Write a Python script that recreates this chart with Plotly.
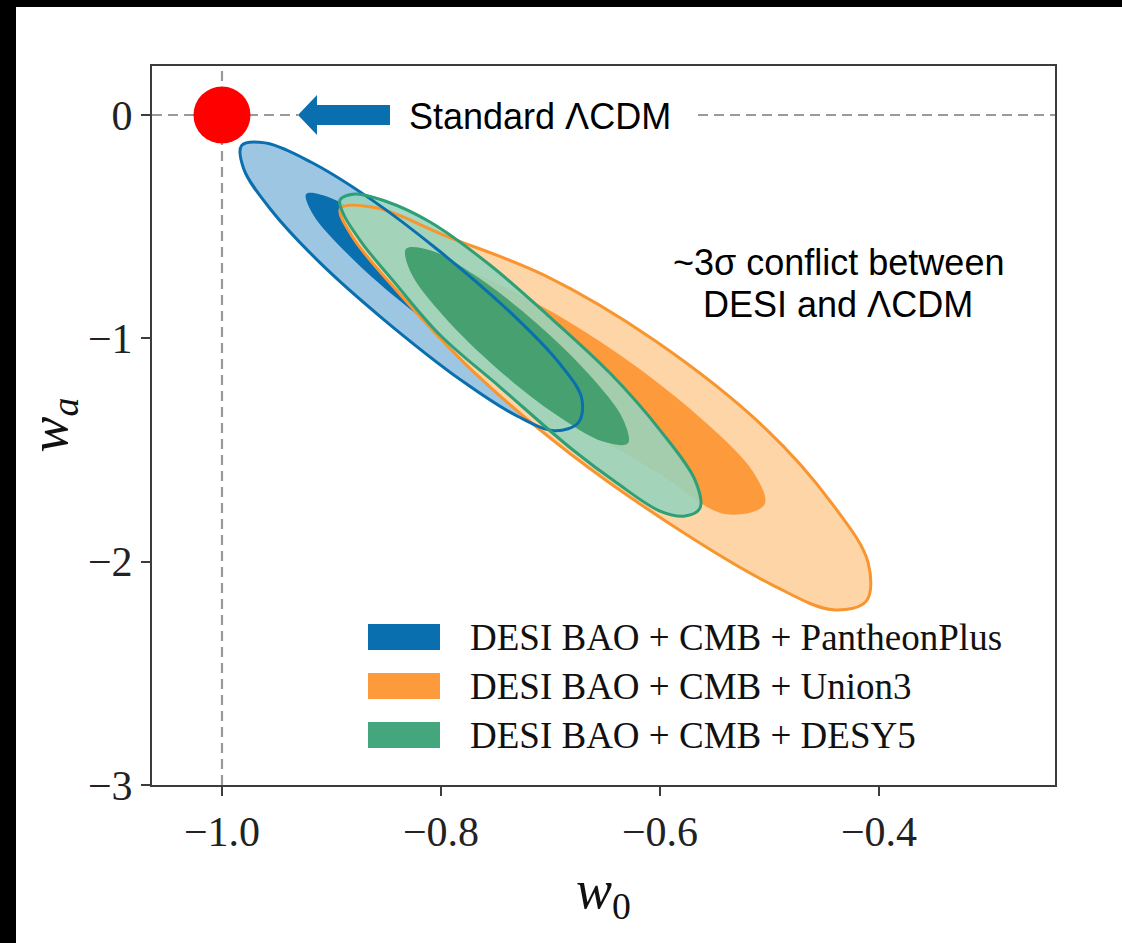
import plotly.graph_objects as go

# ---------------- data ----------------
# contour boundaries in (w0, wa); "outer" = 95% region, "inner" = 68% region
blue_outer_w0 = [-0.8539, -0.9108, -0.9551, -0.9801, -0.9820, -0.9605, -0.9189, -0.8635,
                 -0.8027, -0.7309, -0.6911, -0.6715, -0.6746, -0.6960, -0.7301, -0.7789]
blue_outer_wa = [-0.9091, -0.6601, -0.4254, -0.2414, -0.1361, -0.1249, -0.2105, -0.3789,
                 -0.6046, -0.9104, -1.1160, -1.2683, -1.3775, -1.4134, -1.3489, -1.1970]
blue_inner_w0 = [-0.8398, -0.8864, -0.9168, -0.9231, -0.9035, -0.8632, -0.8132, -0.7666,
                 -0.7362, -0.7299, -0.7495, -0.7898]
blue_inner_wa = [-0.8231, -0.6171, -0.4456, -0.3533, -0.3659, -0.4792, -0.6637, -0.8697,
                 -1.0412, -1.1335, -1.1209, -1.0076]

orange_outer_w0 = [-0.6823, -0.7705, -0.8393, -0.8813, -0.8917, -0.8584, -0.7954, -0.7053,
                   -0.6055, -0.5041, -0.4424, -0.4100, -0.4117, -0.4421, -0.4972, -0.5763]
orange_outer_wa = [-1.5155, -1.1491, -0.7927, -0.5419, -0.4187, -0.4165, -0.5419, -0.7183,
                   -1.0076, -1.4017, -1.7430, -2.0036, -2.1769, -2.2154, -2.1048, -1.8773]
orange_inner_w0 = [-0.6785, -0.7521, -0.8005, -0.8105, -0.7799, -0.7160, -0.6365, -0.5630,
                   -0.5146, -0.5046, -0.5406, -0.5991]
orange_inner_wa = [-1.3704, -1.0882, -0.8442, -0.7009, -0.6986, -0.8348, -1.0748, -1.3569,
                   -1.6010, -1.7443, -1.7868, -1.6122]

green_outer_w0 = [-0.7461, -0.8009, -0.8420, -0.8721, -0.8895, -0.8922, -0.8785, -0.8511,
                  -0.8100, -0.7553, -0.6986, -0.6457, -0.6000, -0.5680, -0.5635, -0.5772,
                  -0.6000, -0.6393, -0.6795]
green_outer_wa = [-1.2181, -0.9852, -0.7524, -0.5732, -0.4389, -0.3807, -0.3538, -0.3851,
                  -0.4792, -0.6717, -0.9136, -1.1554, -1.4107, -1.6346, -1.7600, -1.7958,
                  -1.7734, -1.6480, -1.5002]
green_inner_w0 = [-0.7487, -0.7969, -0.8273, -0.8319, -0.8092, -0.7657, -0.7125, -0.6643,
                  -0.6339, -0.6293, -0.6520, -0.6955]
green_inner_wa = [-1.1357, -0.9046, -0.7080, -0.5992, -0.6068, -0.7291, -0.9333, -1.1644,
                  -1.3610, -1.4698, -1.4622, -1.3399]

series_names = ["DESI BAO + CMB + PantheonPlus", "DESI BAO + CMB + Union3", "DESI BAO + CMB + DESY5"]
lcdm_w0 = [-1.0]
lcdm_wa = [0.0]

x_ticks = [-1.0, -0.8, -0.6, -0.4]
y_ticks = [0, -1, -2, -3]
x_range = [-1.0639, -0.2393]
y_range = [-3.0, 0.2194]

# ---------------- styles ----------------
BLUE, BLUE_LIGHT = "#0a6fae", "#9cc6e2"
ORANGE, ORANGE_LIGHT, ORANGE_LINE = "#fd9a3c", "#fdd5a6", "#f9952f"
GREEN, GREEN_LINE = "#43a67c", "#2e9f76"
GREEN_LIGHT_FILL = "rgba(150,212,189,0.88)"
GREEN_DARK_FILL = "rgba(62,156,106,0.92)"
SERIF = "Liberation Serif"
SANS = "Liberation Sans"


def closed(a):
    return list(a) + [a[0]]


fig = go.Figure()


def add_fill(xs, ys, color):
    fig.add_trace(go.Scatter(x=closed(xs), y=closed(ys), mode="lines", fill="toself",
                             fillcolor=color, line=dict(width=0, shape="spline", smoothing=1.0),
                             hoverinfo="skip", showlegend=False))


def add_line(xs, ys, color):
    fig.add_trace(go.Scatter(x=closed(xs), y=closed(ys), mode="lines",
                             line=dict(width=3, color=color, shape="spline", smoothing=1.0),
                             hoverinfo="skip", showlegend=False))


add_fill(blue_outer_w0, blue_outer_wa, BLUE_LIGHT)
add_fill(blue_inner_w0, blue_inner_wa, BLUE)
add_fill(orange_outer_w0, orange_outer_wa, ORANGE_LIGHT)
add_fill(orange_inner_w0, orange_inner_wa, ORANGE)
add_fill(green_outer_w0, green_outer_wa, GREEN_LIGHT_FILL)
add_fill(green_inner_w0, green_inner_wa, GREEN_DARK_FILL)
add_line(orange_outer_w0, orange_outer_wa, ORANGE_LINE)
add_line(blue_outer_w0, blue_outer_wa, BLUE)
add_line(green_outer_w0, green_outer_wa, GREEN_LINE)

# LCDM point
fig.add_trace(go.Scatter(x=lcdm_w0, y=lcdm_wa, mode="markers",
                         marker=dict(size=57, color="#ff0000", line=dict(width=0)),
                         hoverinfo="skip", showlegend=False))

W, H = 1122, 943
L, R, T, B = 152, 67, 66, 158
PW, PH = W - L - R, H - T - B


def px_x(p):
    return (p - L) / PW


def px_y(p):
    return (H - B - p) / PH


DASH = dict(color="#9a9a9a", width=2.2, dash="10px,6px")
shapes = [
    # reference lines
    dict(type="line", xref="x", yref="y domain", x0=lcdm_w0[0], x1=lcdm_w0[0], y0=0, y1=1,
         line=DASH, layer="below"),
    dict(type="line", xref="x domain", yref="y", x0=0, x1=px_x(298), y0=lcdm_wa[0], y1=lcdm_wa[0],
         line=DASH, layer="below"),
    dict(type="line", xref="x domain", yref="y", x0=px_x(698), x1=1, y0=lcdm_wa[0], y1=lcdm_wa[0],
         line=DASH, layer="below"),
    # arrow pointing at LCDM
    dict(type="path", xref="x", yref="y", xsizemode="pixel", ysizemode="pixel",
         xanchor=lcdm_w0[0], yanchor=lcdm_wa[0],
         path="M 76,0 L 95,20 L 95,10 L 168,10 L 168,-10 L 95,-10 L 95,-20 Z",
         fillcolor="#0a6fae", line=dict(width=0), layer="above"),
    # black frame bands of the picture
    dict(type="rect", xref="paper", yref="paper", x0=-0.3, x1=px_x(16), y0=-0.4, y1=1.3,
         fillcolor="black", line=dict(width=0), layer="above"),
    dict(type="rect", xref="paper", yref="paper", x0=-0.3, x1=1.3, y0=px_y(7), y1=1.3,
         fillcolor="black", line=dict(width=0), layer="above"),
]

annotations = [
    dict(text="Standard \u039bCDM", xref="paper", yref="paper", x=px_x(407), y=px_y(116),
         xanchor="left", yanchor="middle", showarrow=False,
         font=dict(family=SANS, size=36, color="black")),
    dict(text="~3\u03c3 conflict between", xref="paper", yref="paper", x=px_x(838), y=px_y(262),
         xanchor="center", yanchor="middle", showarrow=False,
         font=dict(family=SANS, size=36, color="black")),
    dict(text="DESI and \u039bCDM", xref="paper", yref="paper", x=px_x(838), y=px_y(304),
         xanchor="center", yanchor="middle", showarrow=False,
         font=dict(family=SANS, size=36, color="black")),
    dict(text="<i>w</i><sub><i>a</i></sub>", xref="paper", yref="paper", x=px_x(52), y=0.5,
         xanchor="center", yanchor="middle", textangle=-90, showarrow=False,
         font=dict(family=SERIF, size=54, color="#111")),
    dict(text="<i>w</i><sub>0</sub>", xref="paper", yref="paper", x=0.5, y=px_y(893),
         xanchor="center", yanchor="middle", showarrow=False,
         font=dict(family=SERIF, size=54, color="#111")),
]

# manual legend (patches + labels)
legend_colors = [BLUE, ORANGE, GREEN]
legend_rows = [637, 686, 735]
for name, col, row in zip(series_names, legend_colors, legend_rows):
    shapes.append(dict(type="rect", xref="paper", yref="paper", x0=px_x(368), x1=px_x(440),
                       y0=px_y(row + 13), y1=px_y(row - 13), fillcolor=col,
                       line=dict(width=0), layer="above"))
    annotations.append(dict(text=name, xref="paper", yref="paper", x=px_x(468), y=px_y(row),
                            xanchor="left", yanchor="middle", showarrow=False,
                            font=dict(family=SERIF, size=37, color="#111")))

axis_common = dict(showgrid=False, zeroline=False, showline=True, mirror=True,
                   linecolor="#3c3c3c", linewidth=2, ticks="outside", ticklen=9,
                   tickwidth=1.5, tickcolor="#3c3c3c",
                   tickfont=dict(family=SERIF, size=42, color="#222"))

fig.update_layout(
    width=W, height=H, autosize=False,
    margin=dict(l=L, r=R, t=T, b=B, pad=0),
    paper_bgcolor="white", plot_bgcolor="white",
    xaxis=dict(range=x_range, tickvals=x_ticks, tickformat=".1f", **axis_common),
    yaxis=dict(range=y_range, tickvals=y_ticks, tickformat="d", **axis_common),
    shapes=shapes, annotations=annotations, showlegend=False,
)

fig.write_html("out.html")
